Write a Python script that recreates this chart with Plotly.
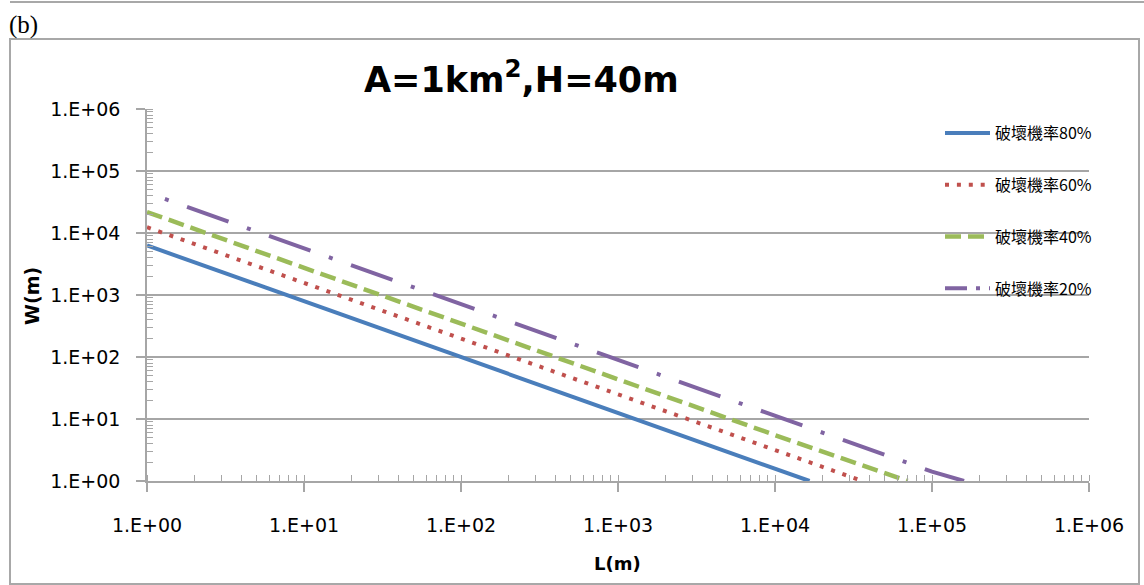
import plotly.graph_objects as go

# ---- data ----
tick_vals = [1, 10, 100, 1000, 10000, 100000, 1000000]
tick_text = ["1.E+00", "1.E+01", "1.E+02", "1.E+03", "1.E+04", "1.E+05", "1.E+06"]

series_names = ["破壞機率80%", "破壞機率60%", "破壞機率40%", "破壞機率20%"]

L_80 = [1, 10, 100, 1000, 10000, 16600]
W_80 = [6300, 790, 100, 12.5, 1.6, 1]

L_60 = [1, 10, 100, 1000, 10000, 36000]
W_60 = [12400, 1560, 196, 24.7, 3.1, 1]

L_40 = [1, 10, 100, 1000, 10000, 70000]
W_40 = [21800, 2745, 345, 43.5, 5.5, 1]

L_20 = [1, 10, 100, 1000, 10000, 100000, 160000]
W_20 = [44900, 5650, 712, 89.6, 11.3, 1.42, 1]

title_text = "A=1km<sup>2</sup>,H=40m"
x_title = "L(m)"
y_title = "W(m)"
panel_label = "(b)"

# ---- styling ----
BLUE = "#4A7EBB"
RED = "#C0504D"
GREEN = "#9BBB59"
PURPLE = "#8064A2"
GRID = "#a6a6a6"

W_FIG, H_FIG = 1144, 585
ML, MR, MT, MB = 147, 55, 109, 104
PW = W_FIG - ML - MR
PH = H_FIG - MT - MB


def px_x(px):
    return (px - ML) / PW


def px_y(py):
    return (H_FIG - MB - py) / PH


fig = go.Figure()

fig.add_trace(go.Scatter(x=L_80, y=W_80, mode="lines", name=series_names[0],
                         legendgroup="g1",
                         line=dict(color=BLUE, width=4)))
fig.add_trace(go.Scatter(x=L_60, y=W_60, mode="lines", name=series_names[1],
                         legendgroup="g2",
                         line=dict(color=RED, width=4, dash="4px,7.9px")))
fig.add_trace(go.Scatter(x=L_40, y=W_40, mode="lines", name=series_names[2],
                         legendgroup="g3",
                         line=dict(color=GREEN, width=4.5, dash="16px,7px")))
fig.add_trace(go.Scatter(x=L_20, y=W_20, mode="lines", name=series_names[3],
                         legendgroup="g4", showlegend=False,
                         line=dict(color=PURPLE, width=4,
                                   dash="0px,19px,4px,19.5px,44px,0.5px")))
# legend entry for the dash-dot series (sample drawn dash first)
fig.add_trace(go.Scatter(x=[None], y=[None], mode="lines", name=series_names[3],
                         legendgroup="g4",
                         line=dict(color=PURPLE, width=4, dash="22px,9px,4px,9px")))

axis_common = dict(
    type="log", range=[0, 6],
    tickvals=tick_vals, ticktext=tick_text,
    ticks="outside", ticklen=9, tickwidth=1.5, tickcolor=GRID,
    showline=True, linecolor=GRID, linewidth=1.5,
    tickfont=dict(family="DejaVu Sans", size=19, color="#000000"),
    minor=dict(dtick="D1", ticks="inside", ticklen=6, tickwidth=1.2,
               tickcolor=GRID, showgrid=False),
    zeroline=False,
)

fig.update_xaxes(**axis_common, showgrid=False, ticklabelstandoff=17)
fig.update_yaxes(**axis_common, showgrid=True, gridcolor=GRID, gridwidth=1.5,
                 ticklabelstandoff=12)

shapes = [
    # white area behind the legend hiding the grid lines
    dict(type="rect", xref="paper", yref="paper", layer="between",
         x0=px_x(933), x1=px_x(1092), y0=px_y(310), y1=px_y(105),
         fillcolor="white", line=dict(width=0)),
    # chart frame
    dict(type="rect", xref="paper", yref="paper", layer="above",
         x0=px_x(10), x1=px_x(1139), y0=px_y(584), y1=px_y(39),
         fillcolor="rgba(0,0,0,0)", line=dict(color="#a8a8a8", width=2)),
    # top rule of the page
    dict(type="line", xref="paper", yref="paper", layer="above",
         x0=px_x(10), x1=px_x(1144), y0=px_y(2), y1=px_y(2),
         line=dict(color="#a8a8a8", width=2)),
]

annotations = [
    dict(text=panel_label, xref="paper", yref="paper", x=px_x(7), y=px_y(25),
         xanchor="left", yanchor="middle", showarrow=False,
         font=dict(family="Liberation Serif", size=25, color="#000000")),
    dict(text=title_text, xref="paper", yref="paper", x=px_x(521), y=px_y(77),
         xanchor="center", yanchor="middle", showarrow=False,
         font=dict(family="DejaVu Sans", size=35, color="#000000", weight="bold")),
    dict(text="<b>" + y_title + "</b>", xref="paper", yref="paper",
         x=px_x(32), y=px_y(296), textangle=-90,
         xanchor="center", yanchor="middle", showarrow=False,
         font=dict(family="DejaVu Sans", size=19, color="#000000")),
    dict(text="<b>" + x_title + "</b>", xref="paper", yref="paper",
         x=px_x(617), y=px_y(563),
         xanchor="center", yanchor="middle", showarrow=False,
         font=dict(family="DejaVu Sans", size=18, color="#000000")),
]

fig.update_layout(
    width=W_FIG, height=H_FIG,
    margin=dict(l=ML, r=MR, t=MT, b=MB, pad=0),
    paper_bgcolor="white", plot_bgcolor="white",
    showlegend=True,
    legend=dict(x=px_x(940), y=px_y(116), xanchor="left", yanchor="top",
                bgcolor="rgba(0,0,0,0)", borderwidth=0,
                tracegroupgap=28, itemwidth=45,
                font=dict(family="Noto Sans CJK TC", size=16, color="#000000")),
    shapes=shapes,
    annotations=annotations,
)

fig.write_html("out.html",
               config={"displayModeBar": False},
               post_script="document.body.style.margin='0';document.body.style.overflow='hidden';")
